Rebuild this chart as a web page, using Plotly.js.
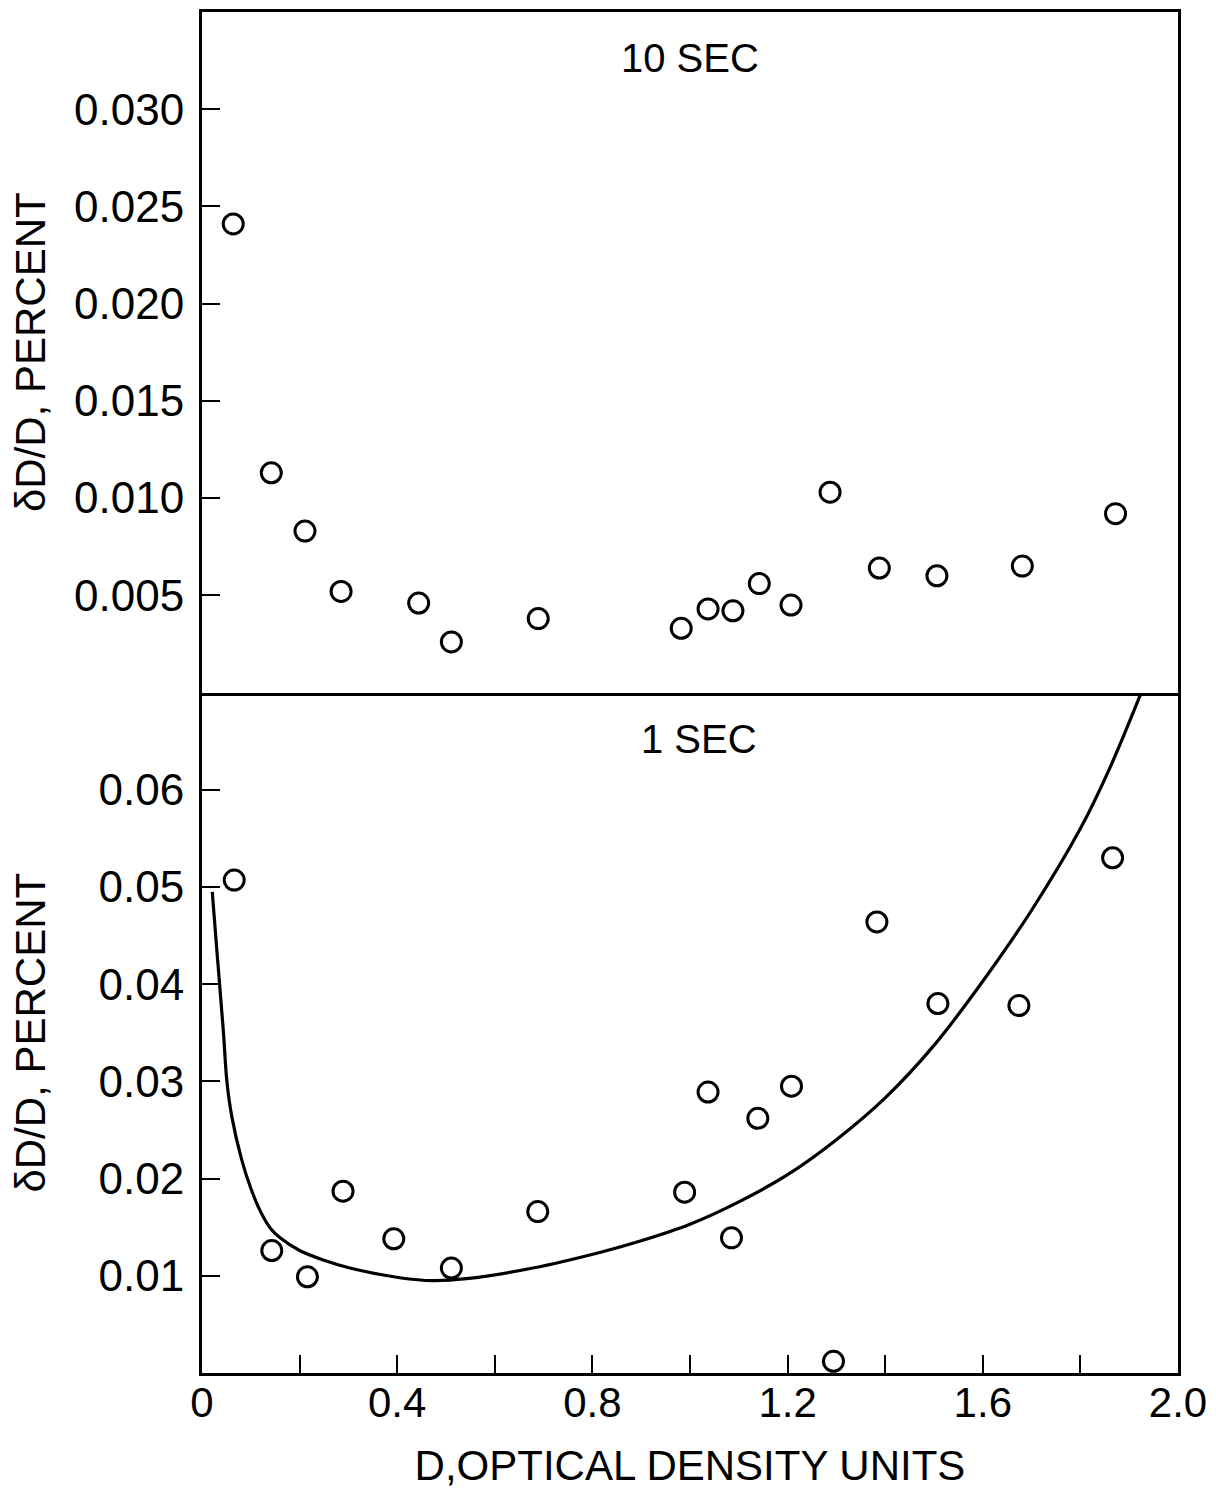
<!DOCTYPE html>
<html>
<head>
<meta charset="utf-8">
<script src="https://cdn.plot.ly/plotly-3.0.1.min.js"></script>
<style>html,body{margin:0;padding:0;background:#fff;}</style>
</head>
<body>
<div id="chart" style="width:1216px;height:1491px;"></div>
<script>
// 10 SEC panel (top)
const d10 = [0.064, 0.142, 0.211, 0.285, 0.444, 0.511, 0.689, 0.982, 1.037, 1.088, 1.142, 1.207, 1.287, 1.388, 1.506, 1.681, 1.872];
const r10 = [0.0241, 0.0113, 0.0083, 0.0052, 0.0046, 0.0026, 0.0038, 0.0033, 0.0043, 0.0042, 0.0056, 0.0045, 0.0103, 0.0064, 0.0060, 0.0065, 0.0092];

// 1 SEC panel (bottom)
const d1 = [0.066, 0.143, 0.216, 0.289, 0.393, 0.511, 0.688, 0.989, 1.037, 1.085, 1.139, 1.208, 1.294, 1.383, 1.508, 1.674, 1.866];
const r1 = [0.0507, 0.0126, 0.0099, 0.0187, 0.0138, 0.0108, 0.0166, 0.0186, 0.0289, 0.0139, 0.0262, 0.0295, 0.0012, 0.0464, 0.0380, 0.0378, 0.0530];

// fitted curve, 1 SEC panel
const curveD = [0.021, 0.032, 0.044, 0.051, 0.061, 0.081, 0.100, 0.120, 0.140, 0.160, 0.200, 0.250, 0.303, 0.405, 0.473, 0.542, 0.678, 0.815, 0.900, 1.000, 1.100, 1.200, 1.300, 1.400, 1.500, 1.600, 1.700, 1.800, 1.860, 1.924];
const curveR = [0.0495, 0.0425, 0.0350, 0.0300, 0.0264, 0.0220, 0.0190, 0.0166, 0.0149, 0.0139, 0.0126, 0.0116, 0.0108, 0.0098, 0.0095, 0.0097, 0.0108, 0.0124, 0.0136, 0.0153, 0.0176, 0.0204, 0.0240, 0.0283, 0.0337, 0.0403, 0.0476, 0.0560, 0.0622, 0.0699];

// tick labels
const xTickVals = [0, 0.4, 0.8, 1.2, 1.6, 2.0];
const xTickText = ['0', '0.4', '0.8', '1.2', '1.6', '2.0'];
const xMinorVals = [0.2, 0.6, 1.0, 1.4, 1.8];
const yTopVals = [0.005, 0.010, 0.015, 0.020, 0.025, 0.030];
const yTopText = ['0.005', '0.010', '0.015', '0.020', '0.025', '0.030'];
const yBotVals = [0.01, 0.02, 0.03, 0.04, 0.05, 0.06];
const yBotText = ['0.01', '0.02', '0.03', '0.04', '0.05', '0.06'];

const FONT = 'Liberation Sans, Arial, sans-serif';
const marker = {symbol: 'circle-open', size: 20, color: '#000', line: {width: 3, color: '#000'}};

const traces = [
  {x: d10, y: r10, type: 'scatter', mode: 'markers', xaxis: 'x2', yaxis: 'y2', marker: marker, cliponaxis: false, name: '10 SEC'},
  {x: curveD, y: curveR, type: 'scatter', mode: 'lines', xaxis: 'x', yaxis: 'y', line: {color: '#000', width: 3.2, shape: 'spline', smoothing: 1}, name: 'fit'},
  {x: d1, y: r1, type: 'scatter', mode: 'markers', xaxis: 'x', yaxis: 'y', marker: marker, cliponaxis: false, name: '1 SEC'}
];

const axCommon = {showline: true, linewidth: 3, linecolor: '#000', showgrid: false, zeroline: false};

const layout = {
  width: 1216, height: 1491,
  margin: {l: 202, r: 38, t: 12, b: 118},
  paper_bgcolor: '#fff', plot_bgcolor: '#fff',
  showlegend: false,
  font: {family: FONT, color: '#000'},
  xaxis: Object.assign({}, axCommon, {
    domain: [0, 1], anchor: 'y', range: [0, 2.0], mirror: false,
    tickmode: 'array', tickvals: xTickVals, ticktext: xTickText,
    ticks: 'inside', ticklen: 18, tickwidth: 2, tickcolor: '#000',
    minor: {tickmode: 'array', tickvals: xMinorVals, ticks: 'inside', ticklen: 18, tickwidth: 2, tickcolor: '#000'},
    tickfont: {size: 42, family: FONT}, ticklabelstandoff: -9,
    title: {text: 'D,OPTICAL DENSITY UNITS', font: {size: 42, family: FONT}, standoff: 26}
  }),
  xaxis2: Object.assign({}, axCommon, {
    anchor: 'y2', matches: 'x', range: [0, 2.0], mirror: true, showticklabels: false, ticks: ''
  }),
  yaxis: Object.assign({}, axCommon, {
    domain: [0, 0.5], anchor: 'x', range: [0, 0.07], mirror: true,
    tickmode: 'array', tickvals: yBotVals, ticktext: yBotText,
    ticks: 'inside', ticklen: 18, tickwidth: 2, tickcolor: '#000',
    tickfont: {size: 44, family: FONT}, ticklabelstandoff: 6,
    title: {text: 'δD/D, PERCENT', font: {size: 42, family: FONT}, standoff: 40}
  }),
  yaxis2: Object.assign({}, axCommon, {
    domain: [0.5, 1], anchor: 'x2', range: [0, 0.035], mirror: true,
    tickmode: 'array', tickvals: yTopVals, ticktext: yTopText,
    ticks: 'inside', ticklen: 18, tickwidth: 2, tickcolor: '#000',
    tickfont: {size: 44, family: FONT}, ticklabelstandoff: 6,
    title: {text: 'δD/D, PERCENT', font: {size: 42, family: FONT}, standoff: 16}
  }),
  annotations: [
    {text: '10 SEC', xref: 'paper', yref: 'y2 domain', x: 0.5, y: 0.932, xanchor: 'center', yanchor: 'middle', showarrow: false, font: {size: 40, family: FONT, color: '#000'}},
    {text: '1 SEC', xref: 'paper', yref: 'y domain', x: 0.509, y: 0.931, xanchor: 'center', yanchor: 'middle', showarrow: false, font: {size: 40, family: FONT, color: '#000'}}
  ]
};

Plotly.newPlot('chart', traces, layout, {staticPlot: true, displayModeBar: false});
</script>
</body>
</html>
